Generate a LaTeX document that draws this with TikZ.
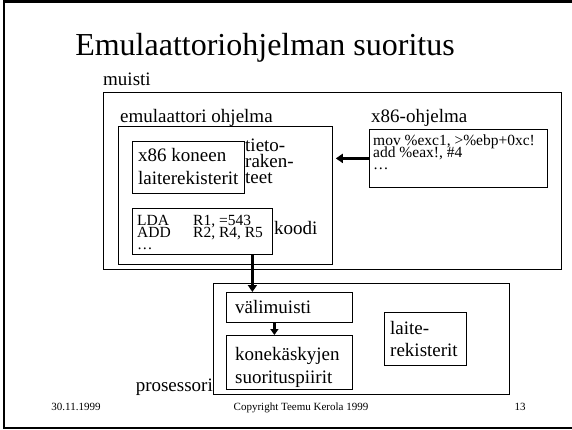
\documentclass[tikz,border=0pt]{standalone}
\usepackage{fontspec}
\setmainfont{Liberation Serif}
\usetikzlibrary{arrows.meta}
\newcommand\tightlines{\setlength{\lineskiplimit}{-20pt}}
\begin{document}
\begin{tikzpicture}[x = 1pt, y = -1pt,
    box/.style = {draw, line width = .8pt, anchor = north west, inner sep = 0pt},
    txt/.style = {anchor = base west, inner sep = 0pt, align = left,
      font = \fontsize{19}{23}\selectfont\tightlines},
    code/.style = {txt, font = \fontsize{15.5}{12}\selectfont\tightlines},
    foot/.style = {anchor = base, inner sep = 0pt, font = \fontsize{11}{13}\selectfont},
    flow/.style = {line width = 3.5pt, -{Triangle[length = 7pt, width = 9pt]}}]
  \useasboundingbox (0,0) rectangle (572,430);
  \begin{scope}
    \clip (0,0) rectangle (572,430);
    \draw [line width = 2.5pt] (4,1.5) rectangle (590,428);
  \end{scope}
  \node [anchor = base, inner sep = 0pt, font = \fontsize{32}{36}\selectfont]
    (title) at (265,56) {Emulaattoriohjelman suoritus};
  \node [txt] (muistilbl) at (103,86) {muisti};
  \node [box, minimum width = 458pt, minimum height = 177pt] (muisti) at (103,92) {};
  \node [txt] (emulbl) at (120,123) {emulaattori ohjelma};
  \node [box, minimum width = 214pt, minimum height = 138pt] (emu) at (118,126) {};
  \node [box, minimum width = 112pt, minimum height = 52pt] (regs) at (132,141) {};
  \node [txt] (regstxt) at (138,185) {x86 koneen\\laiterekisterit};
  \node [txt, font = \fontsize{19}{16}\selectfont\tightlines]
    (tieto) at (245,184) {tieto-\\raken-\\teet};
  \node [box, minimum width = 140pt, minimum height = 46pt] (code) at (132,208) {};
  \node [code] (codetxt) at (137,249)
    {\makebox[56pt][l]{LDA}R1, =543\\\makebox[56pt][l]{ADD}R2, R4, R5\\…};
  \node [txt] (koodi) at (274,234) {koodi};
  \node [txt] (x86lbl) at (371,123) {x86-ohjelma};
  \node [box, minimum width = 178pt, minimum height = 58pt] (x86) at (369,129) {};
  \node [code] (x86txt) at (373,170) {mov \%exc1, >\%ebp+0xc!\\add \%eax!, \#4\\…};
  \node [box, minimum width = 296pt, minimum height = 111pt] (cpu) at (213,283) {};
  \node [txt, anchor = base east] (cpulbl) at (213,391) {prosessori};
  \node [box, minimum width = 126pt, minimum height = 30pt] (vali) at (226,292) {};
  \node [txt] (valitxt) at (235,313) {välimuisti};
  \node [box, minimum width = 126pt, minimum height = 54pt] (kone) at (226,335) {};
  \node [txt] (konetxt) at (235,383) {konekäskyjen\\suorituspiirit};
  \node [box, minimum width = 82pt, minimum height = 53pt] (laite) at (384,312) {};
  \node [txt, font = \fontsize{19}{22}\selectfont] (laitetxt) at (390,356) {laite-\\rekisterit};
  \node [foot] (date) at (76,410) {30.11.1999};
  \node [foot] (copy) at (301,410) {Copyright Teemu Kerola 1999};
  \node [foot] (page) at (520,410) {13};
  \draw [flow, shorten > = 3pt] (x86.west) -- (x86.west -| emu.east);
  \draw [flow] ([xshift = 50pt]code.south) -- ([xshift = 50pt]code.south |- vali.north);
  \draw [flow, line width = 3pt, -{Triangle[length = 6pt, width = 8pt]}]
    ([xshift = -15pt]vali.south) -- ([xshift = -15pt]vali.south |- kone.north);
\end{tikzpicture}
\end{document}
